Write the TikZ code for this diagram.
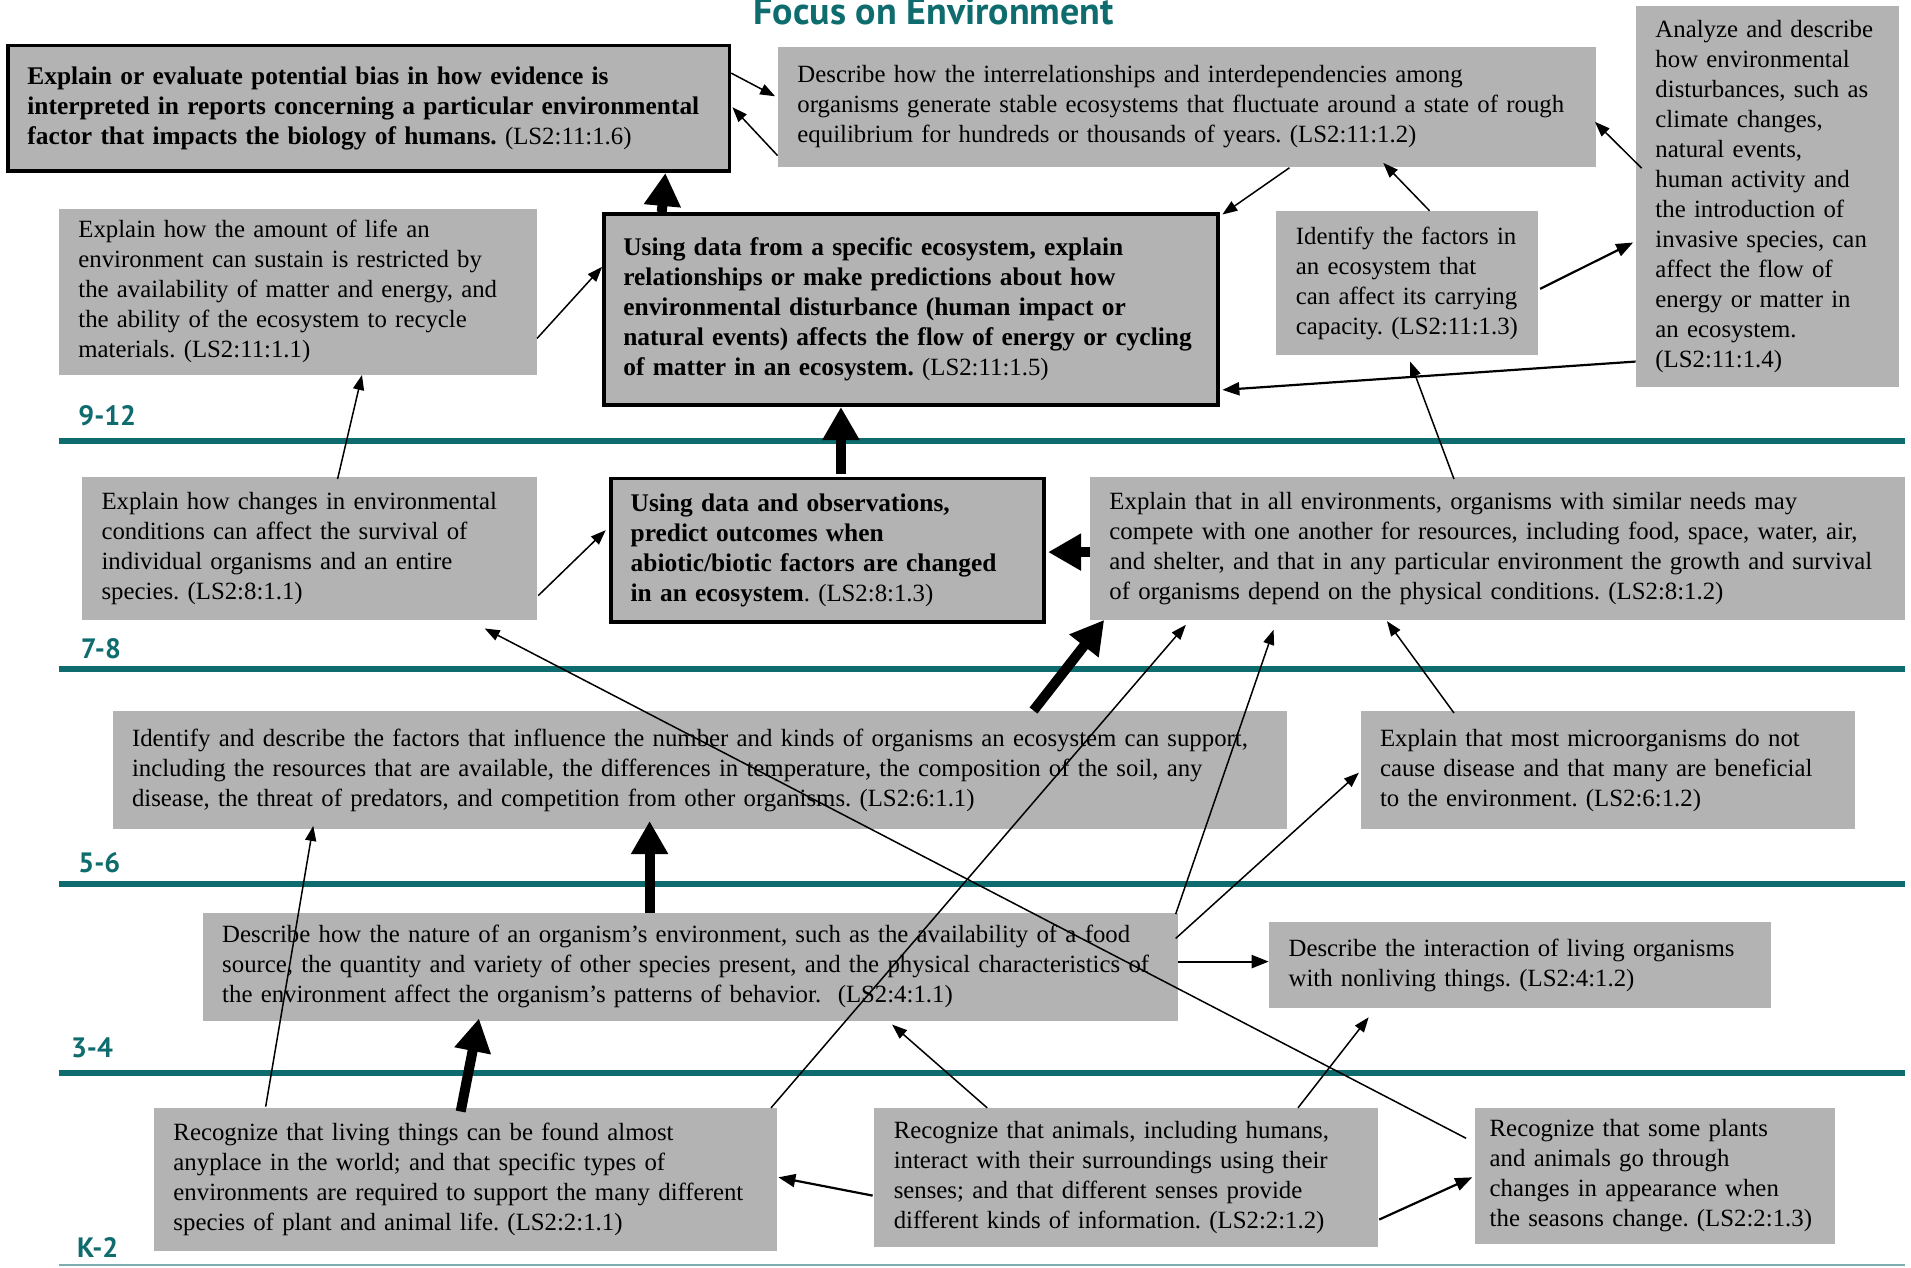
\documentclass[tikz,border=0pt]{standalone}
\usepackage{fontspec}
\setmainfont{Liberation Serif}
\newfontfamily\gradefont{PT Sans}
\usetikzlibrary{arrows.meta,calc}
\definecolor{gradeteal}{RGB}{14,107,110}
\definecolor{boxgray}{RGB}{179,179,179}
\newcommand{\keytext}[1]{{\bfseries\fontsize{12.7}{15}\selectfont #1}}
\frenchspacing
\begin{document}
\begin{tikzpicture}[x=0.609375pt,y=-0.609375pt,
    box/.style={fill=boxgray,anchor=north west,align=left,inner xsep=9.75pt,inner ysep=0pt,font=\fontsize{12.4}{15}\selectfont},
    keybox/.style={box,draw=black,line width=1.8pt},
    grade/.style={anchor=base west,text=gradeteal,font=\gradefont\bfseries\fontsize{14}{14}\selectfont,inner sep=0pt},
    level/.style={gradeteal,line width=3pt},
    link/.style={-{Triangle[length=7.5pt,width=5.5pt]},line width=0.75pt},
    midlink/.style={-{Triangle[length=8.5pt,width=6.5pt]},line width=1.1pt},
    biglink/.style={-{Triangle[length=16.5pt,width=17.5pt]},line width=5pt}]
    \useasboundingbox (0,0) rectangle (1568,1040);

    \node[anchor=base,text=gradeteal,font=\gradefont\bfseries\fontsize{19}{19}\selectfont,inner sep=0pt] (title) at (766,20) {Focus on Environment};

    % bande dei livelli
    \foreach \y in {362,549,725,880} \draw[level] (48,\y) -- (1563,\y);
    \draw[gradeteal!55,line width=1pt] (48,1038) -- (1563,1038);
    \node[grade] (g912) at (64,349) {9-12};
    \node[grade] (g78) at (66,540) {7-8};
    \node[grade] (g56) at (64,716) {5-6};
    \node[grade] (g34) at (58,868) {3-4};
    \node[grade] (gk2) at (63,1032) {K-2};

    % 9-12
    \node[keybox,text width=341.25pt,minimum height=62.77pt] (b16) at (5,36) {\keytext{Explain or evaluate potential bias in how evidence is\\interpreted in reports concerning a particular environmental\\factor that impacts the biology of humans.} (LS2:11:1.6)};
    \node[box,text width=389.39pt,minimum height=60.33pt] (b12) at (638,38) {Describe how the interrelationships and interdependencies among\\organisms generate stable ecosystems that fluctuate around a state of rough\\equilibrium for hundreds or thousands of years. (LS2:11:1.2)};
    \node[box,text width=112.13pt,minimum height=190.13pt] (b14) at (1342,5) {Analyze and describe\\how environmental\\disturbances, such as\\climate changes,\\natural events,\\human activity and\\the introduction of\\invasive species, can\\affect the flow of\\energy or matter in\\an ecosystem.\\(LS2:11:1.4)};
    \node[box,text width=219.38pt,minimum height=82.88pt] (b11) at (48,171) {Explain how the amount of life an\\environment can sustain is restricted by\\the availability of matter and energy, and\\the ability of the ecosystem to recycle\\materials. (LS2:11:1.1)};
    \node[keybox,text width=287.63pt,minimum height=95.67pt] (b15) at (494,174) {\keytext{Using data from a specific ecosystem, explain\\relationships or make predictions about how\\environmental disturbance (human impact or\\natural events) affects the flow of energy or cycling\\of matter in an ecosystem.} (LS2:11:1.5)};
    \node[box,text width=111.52pt,minimum height=71.91pt] (b13) at (1047,173) {Identify the factors in\\an ecosystem that\\can affect its carrying\\capacity. (LS2:11:1.3)};

    % 7-8
    \node[box,text width=207.8pt,minimum height=71.3pt] (m1) at (67,391) {Explain how changes in environmental\\conditions can affect the survival of\\individual organisms and an entire\\species. (LS2:8:1.1)};
    \node[keybox,text width=196.83pt,minimum height=71.91pt] (m3) at (500,391) {\keytext{Using data and observations,\\predict outcomes when\\abiotic/biotic factors are changed\\in an ecosystem}. (LS2:8:1.3)};
    \node[box,text width=388.17pt,minimum height=71.3pt] (m2) at (894,391) {Explain that in all environments, organisms with similar needs may\\compete with one another for resources, including food, space, water, air,\\and shelter, and that in any particular environment the growth and survival\\of organisms depend on the physical conditions. (LS2:8:1.2)};

    % 5-6
    \node[box,text width=567.94pt,minimum height=59.11pt] (s1) at (92,583) {Identify and describe the factors that influence the number and kinds of organisms an ecosystem can support,\\including the resources that are available, the differences in temperature, the composition of the soil, any\\disease, the threat of predators, and competition from other organisms. (LS2:6:1.1)};
    \node[box,text width=227.91pt,minimum height=59.11pt] (s2) at (1116,583) {Explain that most microorganisms do not\\cause disease and that many are beneficial\\to the environment. (LS2:6:1.2)};

    % 3-4
    \node[box,text width=468pt,minimum height=53.63pt] (t1) at (166,749) {Describe how the nature of an organism’s environment, such as the availability of a food\\source, the quantity and variety of other species present, and the physical characteristics of\\the environment affect the organism’s patterns of behavior.\ \ (LS2:4:1.1)};
    \node[box,text width=231.56pt,minimum height=43.27pt] (t2) at (1041,756) {Describe the interaction of living organisms\\with nonliving things. (LS2:4:1.2)};

    % K-2
    \node[box,text width=291.89pt,minimum height=71.3pt] (k1) at (126,909) {Recognize that living things can be found almost\\anyplace in the world; and that specific types of\\environments are required to support the many different\\species of plant and animal life. (LS2:2:1.1)};
    \node[box,text width=232.17pt,minimum height=69.47pt] (k2) at (717,909) {Recognize that animals, including humans,\\interact with their surroundings using their\\senses; and that different senses provide\\different kinds of information. (LS2:2:1.2)};
    \node[box,inner xsep=7.3pt,text width=165.17pt,minimum height=67.64pt] (k3) at (1210,909) {Recognize that some plants\\and animals go through\\changes in appearance when\\the seasons change. (LS2:2:1.3)};

    % frecce
    \draw[link] ($(b16.north east)+(0,24)$) -- ($(b12.north west)+(-2,41)$);
    \draw[link] ($(b12.south west)+(0,-10)$) -- ($(b16.north east)+(1,52)$);
    \draw[biglink] ($(b15.north west)+(49,0)$) -- ($(b16.south east)+(-54,0)$);
    \draw[link] ($(b12.south west)+(420,0)$) -- ($(b15.north east)+(2,2)$);
    \draw[link] ($(b13.north west)+(126,0)$) -- ($(b12.south west)+(497,-4)$);
    \draw[link] ($(b14.north west)+(5,133)$) -- ($(b12.north east)+(-1,62)$);
    \draw[midlink] ($(b13.north east)+(1,64)$) -- ($(b14.north west)+(-2,194)$);
    \draw[midlink] ($(b14.south west)+(0,-21)$) -- ($(b15.south east)+(2,-14)$);
    \draw[link] ($(b11.south east)+(0,-30)$) -- ($(b15.north west)+(0,45)$);
    \draw[link] ($(m1.north west)+(210,2)$) -- ($(b11.south west)+(249,0)$);
    \draw[link] ($(m1.south east)+(1,-20)$) -- ($(m3.north west)+(-3,44)$);
    \draw[biglink] ($(m3.north west)+(190,-2)$) -- ($(b15.south west)+(196,0)$);
    \draw[biglink] ($(m2.north west)+(0,62)$) -- ($(m3.north east)+(2,62)$);
    \draw[link] ($(m2.north west)+(299,2)$) -- ($(b13.south west)+(110,5)$);
    \draw[biglink] ($(s1.north west)+(756,0)$) -- ($(m2.south west)+(12,0)$);
    \draw[link] ($(t1.north east)+(-2,1)$) -- ($(m2.south west)+(151,8)$);
    \draw[link] ($(t1.north east)+(-2,21)$) -- ($(s2.north west)+(-1,51)$);
    \draw[midlink] ($(t1.north east)+(0,40)$) -- ($(t2.north west)+(0,33)$);
    \draw[link] ($(s2.north west)+(77,2)$) -- ($(m2.south west)+(244,1)$);
    \draw[biglink] ($(t1.north west)+(367,0)$) -- ($(s1.south west)+(441,-7)$);
    \draw[biglink] ($(k1.north west)+(252,3)$) -- ($(t1.south west)+(227,-2)$);
    \draw[link] ($(k1.north west)+(92,-1)$) -- ($(s1.south west)+(165,-3)$);
    \draw[link] ($(k1.north east)+(-5,0)$) -- ($(m2.south west)+(79,4)$);
    \draw[link] ($(k3.north west)+(-7,25)$) -- ($(m1.south east)+(-43,7)$); % la freccia lunga
    \draw[midlink] ($(k2.north west)+(-1,72)$) -- ($(k1.north east)+(1,57)$);
    \draw[link] ($(k2.north west)+(93,0)$) -- ($(t1.south west)+(566,3)$);
    \draw[link] ($(k2.north west)+(348,0)$) -- ($(t2.south west)+(82,7)$);
    \draw[midlink] ($(k2.south east)+(1,-23)$) -- ($(k3.north west)+(-2,57)$);
\end{tikzpicture}
\end{document}
